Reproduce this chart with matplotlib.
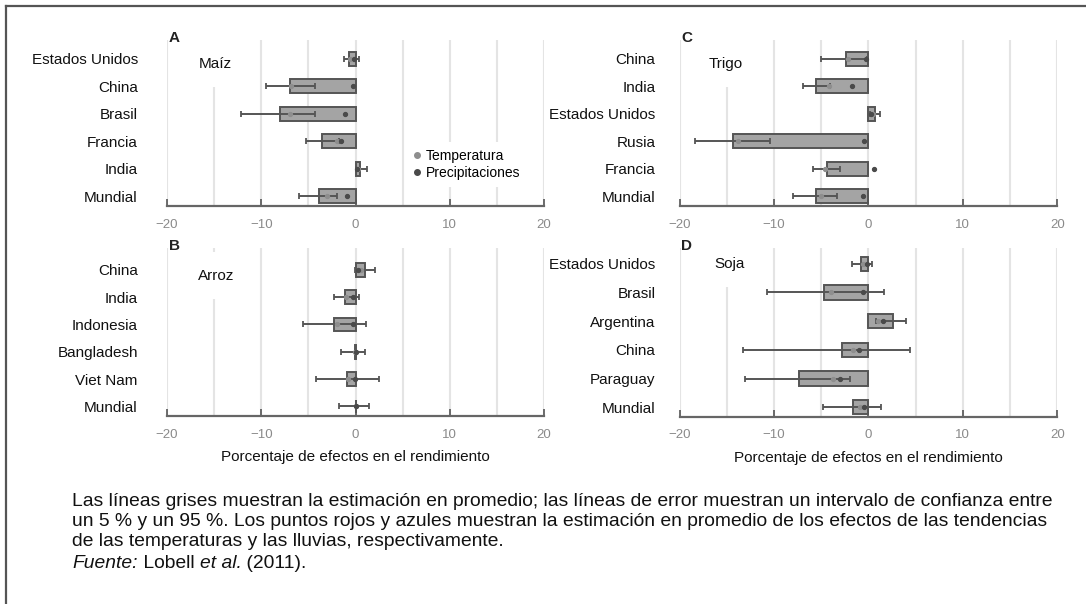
import numpy as np
import matplotlib
matplotlib.use("Agg")
import matplotlib.pyplot as plt
from matplotlib.lines import Line2D

plt.rcParams['font.family'] = ['Liberation Sans', 'DejaVu Sans']

# Datos (de arriba hacia abajo en cada panel)
maiz_paises = ['Estados Unidos', 'China', 'Brasil', 'Francia', 'India', 'Mundial']
maiz_media = [-0.7, -7.0, -8.0, -3.6, 0.5, -3.9]
maiz_lo = [-1.2, -9.5, -12.1, -5.2, 0.0, -6.0]
maiz_hi = [0.4, -4.3, -4.3, -1.8, 1.2, -2.0]
maiz_temp = [-0.6, -6.8, -7.0, -2.0, 0.3, -3.0]
maiz_prec = [-0.2, -0.3, -1.1, -1.5, 0.2, -0.9]

trigo_paises = ['China', 'India', 'Estados Unidos', 'Rusia', 'Francia', 'Mundial']
trigo_media = [-2.4, -5.5, 0.7, -14.3, -4.4, -5.5]
trigo_lo = [-5.0, -6.9, 0.2, -18.4, -5.9, -8.0]
trigo_hi = [-0.2, -4.1, 1.2, -10.4, -3.0, -3.3]
trigo_temp = [-2.2, -4.2, 0.5, -13.8, -4.6, -5.0]
trigo_prec = [-0.3, -1.7, 0.3, -0.5, 0.6, -0.6]

arroz_paises = ['China', 'India', 'Indonesia', 'Bangladesh', 'Viet Nam', 'Mundial']
arroz_media = [1.0, -1.1, -2.3, -0.1, -0.9, 0.0]
arroz_lo = [-0.1, -2.3, -5.6, -1.5, -4.2, -1.8]
arroz_hi = [2.1, 0.4, 1.1, 1.0, 2.5, 1.4]
arroz_temp = [0.6, -1.0, -2.0, -0.1, -0.8, 0.0]
arroz_prec = [0.3, -0.3, -0.3, 0.0, -0.1, 0.0]

soja_paises = ['Estados Unidos', 'Brasil', 'Argentina', 'China', 'Paraguay', 'Mundial']
soja_media = [-0.8, -4.7, 2.6, -2.8, -7.4, -1.6]
soja_lo = [-1.7, -10.7, 0.8, -13.3, -13.1, -4.8]
soja_hi = [0.4, 1.7, 4.0, 4.4, -2.0, 1.3]
soja_temp = [-0.6, -4.0, 1.0, -1.6, -3.7, -0.9]
soja_prec = [-0.2, -0.6, 1.5, -1.0, -3.0, -0.5]

W, H = 1086, 604
fig = plt.figure(figsize=(W / 100, H / 100), dpi=100)

def px_axes(l, r, t, b):
    return fig.add_axes([l / W, 1 - b / H, (r - l) / W, (b - t) / H])

BAR = '#a4a4a4'
EDGE = '#555555'
C_TEMP = '#8e8e8e'
C_PREC = '#4a4a4a'

def panel(ax, letra, cultivo, pos_cultivo, paises, media, lo, hi, temp, prec,
          ylim, pad, xlabel=False):
    y = np.arange(len(paises))[::-1]
    media = np.array(media)
    err = np.array([media - np.array(lo), np.array(hi) - media])
    ax.barh(y, media, height=0.5, color=BAR, edgecolor=EDGE, linewidth=1.4, zorder=2)
    ax.errorbar(media, y, xerr=err, fmt='none', ecolor=EDGE, elinewidth=1.4,
                capsize=2.5, capthick=1.3, zorder=3)
    ax.plot(temp, y, 'o', color=C_TEMP, markersize=2.8, zorder=4)
    ax.plot(prec, y, 'o', color=C_PREC, markersize=2.8, zorder=4)
    ax.set_xlim(-20, 20)
    ax.set_ylim(*ylim)
    ax.set_yticks(y)
    ax.set_yticklabels(paises, fontsize=11, color='#111111')
    ax.tick_params(axis='y', length=0, pad=pad)
    ax.set_xticks([-20, -10, 0, 10, 20])
    ax.set_xticklabels(['\u221220', '\u221210', '0', '10', '20'])
    ax.set_xticks(np.arange(-20, 21, 5), minor=True)
    ax.tick_params(axis='x', which='major', direction='in', length=5, width=1.2,
                   color=EDGE, labelsize=9.5, labelcolor='#8a8a8a', pad=9)
    ax.tick_params(axis='x', which='minor', length=0)
    ax.grid(axis='x', which='both', color='#e4e4e4', linewidth=1.5, zorder=0)
    ax.set_axisbelow(True)
    for s in ['left', 'right', 'top']:
        ax.spines[s].set_visible(False)
    ax.spines['bottom'].set_color('#666666')
    ax.spines['bottom'].set_linewidth(1.6)
    ax.text(0.004, 1.01, letra, transform=ax.transAxes, fontsize=11,
            fontweight='bold', color='#222222', ha='left', va='center')
    ax.text(pos_cultivo[0], pos_cultivo[1], cultivo, transform=ax.transAxes,
            fontsize=11, ha='left', va='center', color='#111111', zorder=5,
            bbox=dict(facecolor='white', edgecolor='none', pad=12))
    if xlabel:
        ax.set_xlabel('Porcentaje de efectos en el rendimiento', fontsize=11,
                      color='#111111', labelpad=7)

axA = px_axes(167, 544, 40, 206)
axC = px_axes(679.6, 1057.2, 40, 206)
axB = px_axes(167, 544, 248, 416)
axD = px_axes(679.6, 1057.2, 248, 416.5)

panel(axA, 'A', 'Maíz', (0.085, 0.857), maiz_paises, maiz_media, maiz_lo, maiz_hi,
      maiz_temp, maiz_prec, (-0.35, 5.68), 21)
panel(axC, 'C', 'Trigo', (0.078, 0.857), trigo_paises, trigo_media, trigo_lo, trigo_hi,
      trigo_temp, trigo_prec, (-0.35, 5.68), 17.5)
panel(axB, 'B', 'Arroz', (0.081, 0.836), arroz_paises, arroz_media, arroz_lo, arroz_hi,
      arroz_temp, arroz_prec, (-0.35, 5.8), 21, xlabel=True)
panel(axD, 'D', 'Soja', (0.091, 0.907), soja_paises, soja_media, soja_lo, soja_hi,
      soja_temp, soja_prec, (-0.32, 5.55), 17.5, xlabel=True)

handles = [Line2D([], [], marker='o', linestyle='none', color=C_TEMP, markersize=4),
           Line2D([], [], marker='o', linestyle='none', color=C_PREC, markersize=4)]
leg = axA.legend(handles, ['Temperatura', 'Precipitaciones'], loc='upper left',
                 bbox_to_anchor=(0.634, 0.386), fontsize=10, frameon=True,
                 handlelength=0.6, handletextpad=0.3, labelspacing=0.2,
                 borderpad=0.5, borderaxespad=0, fancybox=False)
leg.get_frame().set_facecolor('white')
leg.get_frame().set_edgecolor('none')
leg.get_frame().set_alpha(1)
leg.set_zorder(6)

# Nota al pie
nota = ['Las líneas grises muestran la estimación en promedio; las líneas de error muestran un intervalo de confianza entre',
        'un 5 % y un 95 %. Los puntos rojos y azules muestran la estimación en promedio de los efectos de las tendencias',
        'de las temperaturas y las lluvias, respectivamente.']
FS_NOTA = 13.9
for i, linea in enumerate(nota):
    fig.text(72 / W, 1 - [502, 522, 542][i] / H, linea, fontsize=FS_NOTA,
             color='#111111', ha='left', va='center')

fig.canvas.draw()
renderer = fig.canvas.get_renderer()
x = 72
for txt, estilo in [('Fuente:', 'italic'), (' Lobell ', 'normal'), ('et al.', 'italic'), (' (2011).', 'normal')]:
    t = fig.text(x / W, 1 - 563 / H, txt, fontsize=FS_NOTA, style=estilo,
                 color='#111111', ha='left', va='center')
    x += t.get_window_extent(renderer).width

# Marco (arriba e izquierda)
fig.add_artist(Line2D([6 / W, 1], [1 - 6 / H, 1 - 6 / H], color='#555555', linewidth=1.6))
fig.add_artist(Line2D([6 / W, 6 / W], [0, 1 - 6 / H], color='#555555', linewidth=1.6))

fig.savefig('out.png', dpi=100)
